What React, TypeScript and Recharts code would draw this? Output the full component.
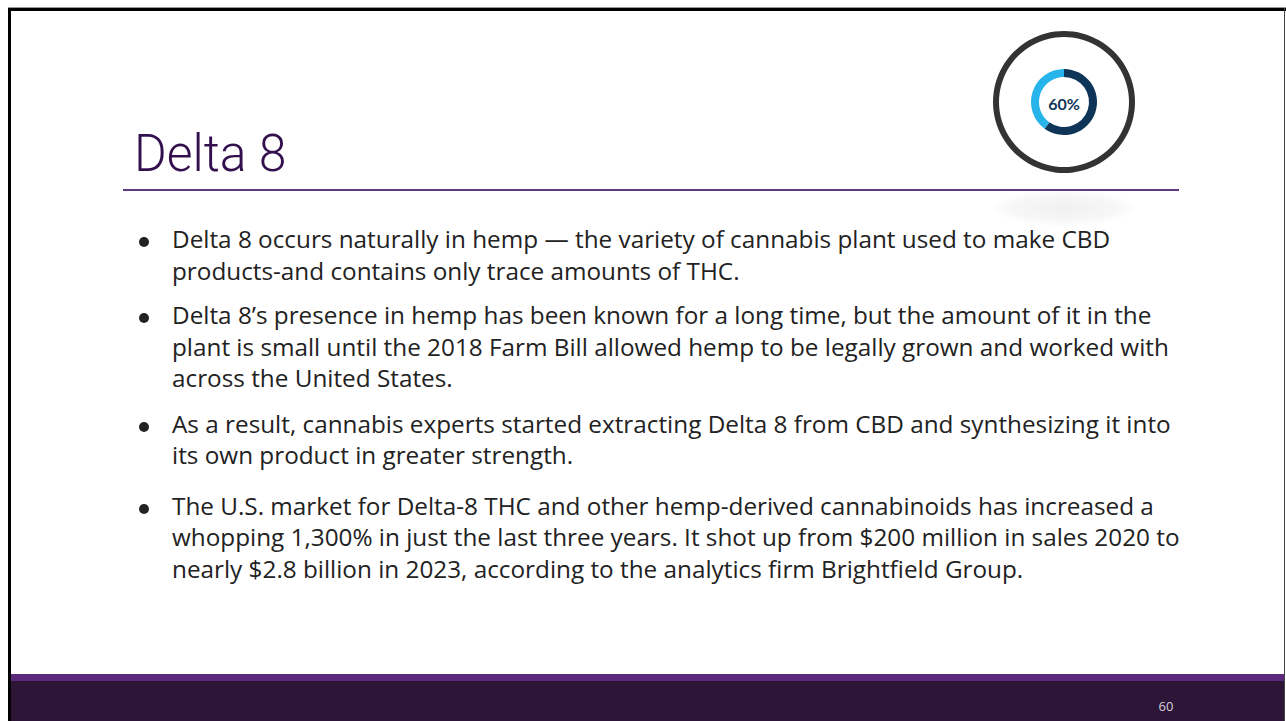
import React from 'react';
import { PieChart, Pie, Cell } from 'recharts';

// donut values (percent)
const DONUT_LABELS = ['Done', 'Remaining'];
const DONUT_VALUES = [60, 40];
const DONUT_COLORS = ['#0E3557', '#27B4EA'];
const RING_VALUES = [100];

const TITLE = 'Delta 8';
const PAGE_NUMBER = '60';

const BULLETS: string[][] = [
    [
        'Delta 8 occurs naturally in hemp \u2014 the variety of cannabis plant used to make CBD',
        'products-and contains only trace amounts of THC.',
    ],
    [
        'Delta 8\u2019s presence in hemp has been known for a long time, but the amount of it in the',
        'plant is small until the 2018 Farm Bill allowed hemp to be legally grown and worked with',
        'across the United States.',
    ],
    [
        'As a result, cannabis experts started extracting Delta 8 from CBD and synthesizing it into',
        'its own product in greater strength.',
    ],
    [
        'The U.S. market for Delta-8 THC and other hemp-derived cannabinoids has increased a',
        'whopping 1,300% in just the last three years. It shot up from $200 million in sales 2020 to',
        'nearly $2.8 billion in 2023, according to the analytics firm Brightfield Group.',
    ],
];

// space above each paragraph (px)
const PARA_GAPS = [0, 13, 14, 19];

const donutData = DONUT_LABELS.map((name, i) => ({ name, value: DONUT_VALUES[i] }));
const ringData = RING_VALUES.map((value) => ({ name: 'ring', value }));

const App: React.FC = () => {
    return (
        <div style={{ position: 'relative', width: 1286, height: 721, background: '#fff', overflow: 'hidden' }}>
            <style>{`html,body{margin:0;padding:0;overflow:hidden;background:#fff}`}</style>

            {/* slide frame */}
            <div style={{ position: 'absolute', left: 8, top: 7, width: 1278, height: 1, background: '#9a9a9a' }} />
            <div style={{ position: 'absolute', left: 8, top: 8, width: 1278, height: 3, background: '#000' }} />
            <div style={{ position: 'absolute', left: 8, top: 8, width: 3, height: 713, background: '#000' }} />
            <div style={{ position: 'absolute', left: 1284, top: 8, width: 1, height: 713, background: '#444' }} />

            {/* title */}
            <div
                style={{
                    position: 'absolute',
                    left: 134,
                    top: 128,
                    fontFamily: 'Roboto, sans-serif',
                    fontWeight: 300,
                    fontSize: 52,
                    lineHeight: '52px',
                    color: '#33104D',
                    transform: 'scaleX(0.96)',
                    transformOrigin: 'left top',
                    whiteSpace: 'nowrap',
                }}
            >
                {TITLE}
            </div>
            <div style={{ position: 'absolute', left: 123, top: 189, width: 1056, height: 2, background: '#5E3A7E' }} />

            {/* shadow under the badge */}
            <div
                style={{
                    position: 'absolute',
                    left: 993,
                    top: 190,
                    width: 142,
                    height: 36,
                    borderRadius: '50%',
                    background: 'radial-gradient(ellipse at center, rgba(0,0,0,0.06) 0%, rgba(0,0,0,0.03) 50%, rgba(0,0,0,0) 75%)',
                }}
            />

            {/* donut badge */}
            <div style={{ position: 'absolute', left: 984, top: 22, width: 160, height: 160 }}>
                <PieChart width={160} height={160} margin={{ top: 0, right: 0, bottom: 0, left: 0 }}>
                    <Pie
                        data={ringData}
                        dataKey="value"
                        cx={80}
                        cy={80}
                        innerRadius={65}
                        outerRadius={71}
                        startAngle={90}
                        endAngle={-270}
                        stroke="none"
                        fill="#333333"
                        isAnimationActive={false}
                    />
                    <Pie
                        data={donutData}
                        dataKey="value"
                        cx={80}
                        cy={80}
                        innerRadius={25}
                        outerRadius={33}
                        startAngle={90}
                        endAngle={-270}
                        stroke="none"
                        isAnimationActive={false}
                    >
                        {donutData.map((d, i) => (
                            <Cell key={d.name} fill={DONUT_COLORS[i]} />
                        ))}
                    </Pie>
                    <text
                        x={80}
                        y={81}
                        textAnchor="middle"
                        dominantBaseline="central"
                        fontFamily="Lato, sans-serif"
                        fontWeight={700}
                        fontSize={16}
                        fill="#0E3557"
                    >
                        {`${DONUT_VALUES[0]}%`}
                    </text>
                </PieChart>
            </div>

            {/* bullets */}
            <div
                style={{
                    position: 'absolute',
                    left: 139,
                    top: 223,
                    fontFamily: '"Open Sans", sans-serif',
                    fontSize: 24.3,
                    lineHeight: '31.5px',
                    color: '#222',
                }}
            >
                {BULLETS.map((lines, i) => (
                    <div key={i} style={{ display: 'flex', marginTop: PARA_GAPS[i] }}>
                        <div
                            style={{
                                width: 10,
                                height: 10,
                                borderRadius: '50%',
                                background: '#222',
                                marginTop: 14,
                                marginRight: 23,
                                flexShrink: 0,
                            }}
                        />
                        <div>
                            {lines.map((l, j) => (
                                <div key={j} style={{ whiteSpace: 'nowrap' }}>
                                    {l}
                                </div>
                            ))}
                        </div>
                    </div>
                ))}
            </div>

            {/* footer */}
            <div style={{ position: 'absolute', left: 11, top: 674, width: 1273, height: 7, background: '#5B2A7D' }} />
            <div style={{ position: 'absolute', left: 11, top: 681, width: 1273, height: 40, background: '#2D1538' }} />
            <div
                style={{
                    position: 'absolute',
                    left: 1146,
                    top: 697,
                    width: 40,
                    textAlign: 'center',
                    fontFamily: '"Open Sans", sans-serif',
                    fontSize: 13,
                    color: '#d6d2da',
                }}
            >
                {PAGE_NUMBER}
            </div>
        </div>
    );
};

export default App;
